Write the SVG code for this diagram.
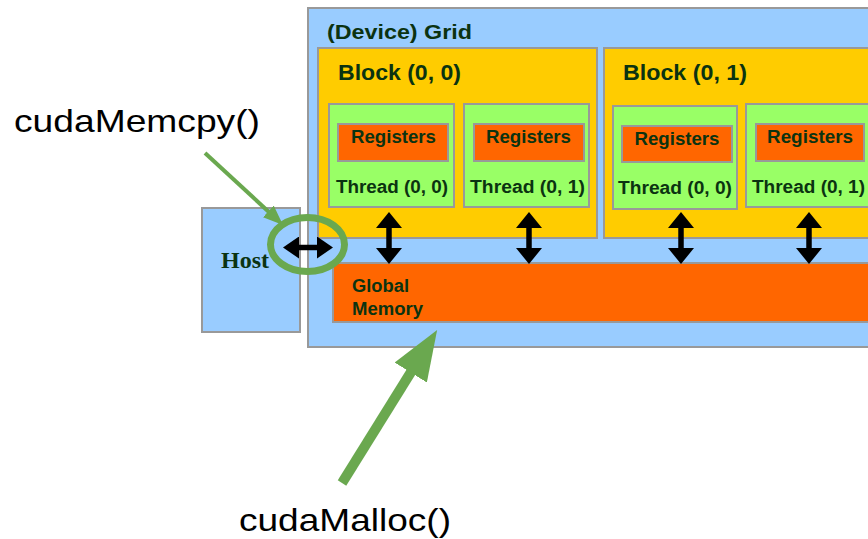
<svg xmlns="http://www.w3.org/2000/svg" width="868" height="539" viewBox="0 0 868 539">
<defs>
<style>
.grid{fill:#99ccff;stroke:#999999;stroke-width:2}
.block{fill:#ffcc00;stroke:#999999;stroke-width:2}
.thread{fill:#99ff66;stroke:#999999;stroke-width:2}
.reg{fill:#ff6600;stroke:#999999;stroke-width:2}
.lbl{font-family:"Liberation Sans",Arial,sans-serif;font-weight:bold;fill:#0b3311}
.note{font-family:"Liberation Sans",Arial,sans-serif;fill:#000000}
.dbl{stroke:#000000;stroke-width:5.5;fill:none}
.grn{stroke:#6aa84f;fill:none}
</style>
<marker id="bh" viewBox="0 0 16 26" markerUnits="userSpaceOnUse" markerWidth="16" markerHeight="26" refX="5" refY="13" orient="auto-start-reverse">
<path d="M0,0 L16,13 L0,26 z" fill="#000000"/>
</marker>
<marker id="bhh" viewBox="0 0 16 22" markerUnits="userSpaceOnUse" markerWidth="16" markerHeight="22" refX="5" refY="11" orient="auto-start-reverse">
<path d="M0,0 L16,11 L0,22 z" fill="#000000"/>
</marker>
<marker id="gs" viewBox="0 0 20 16" markerUnits="userSpaceOnUse" markerWidth="20" markerHeight="16" refX="6" refY="8" orient="auto">
<path d="M0,0 L20,8 L0,16 z" fill="#6aa84f"/>
</marker>
<marker id="gl" viewBox="0 0 50 38" markerUnits="userSpaceOnUse" markerWidth="50" markerHeight="38" refX="10" refY="19" orient="auto">
<path d="M0,0 L50,19 L0,38 z" fill="#6aa84f"/>
</marker>
</defs>
<rect width="868" height="539" fill="#ffffff"/>

<g id="grid">
<rect class="grid" x="308" y="8" width="570" height="339"/>
<text class="lbl" x="327" y="39" font-size="21" textLength="145" lengthAdjust="spacingAndGlyphs">(Device) Grid</text>
</g>

<g id="host">
<rect class="grid" x="202" y="208" width="98" height="124"/>
<text x="221" y="268" font-family="'Liberation Serif','Times New Roman',serif" font-weight="bold" font-size="24" fill="#0b3311">Host</text>
</g>

<g id="block00">
<rect class="block" x="318" y="48" width="279" height="190"/>
<text class="lbl" x="338" y="80" font-size="22" textLength="123" lengthAdjust="spacingAndGlyphs">Block (0, 0)</text>
</g>
<g id="block01">
<rect class="block" x="604" y="48" width="280" height="190"/>
<text class="lbl" x="623" y="80" font-size="22" textLength="124" lengthAdjust="spacingAndGlyphs">Block (0, 1)</text>
</g>

<g id="b00t00">
<rect class="thread" x="329" y="104" width="125" height="103"/>
<rect class="reg" x="338" y="124" width="110" height="37"/>
<text class="lbl" x="393.5" y="143" font-size="18" text-anchor="middle" textLength="85" lengthAdjust="spacingAndGlyphs">Registers</text>
<text class="lbl" x="392" y="193" font-size="18" text-anchor="middle" textLength="112" lengthAdjust="spacingAndGlyphs">Thread (0, 0)</text>
</g>
<g id="b00t01">
<rect class="thread" x="464" y="104" width="125" height="103"/>
<rect class="reg" x="474" y="124" width="110" height="37"/>
<text class="lbl" x="528.5" y="143" font-size="18" text-anchor="middle" textLength="85" lengthAdjust="spacingAndGlyphs">Registers</text>
<text class="lbl" x="527.5" y="193" font-size="18" text-anchor="middle" textLength="115" lengthAdjust="spacingAndGlyphs">Thread (0, 1)</text>
</g>
<g id="b01t00">
<rect class="thread" x="613" y="106" width="124" height="103"/>
<rect class="reg" x="622" y="126" width="110" height="36"/>
<text class="lbl" x="677" y="145" font-size="18" text-anchor="middle" textLength="85" lengthAdjust="spacingAndGlyphs">Registers</text>
<text class="lbl" x="675" y="194" font-size="18" text-anchor="middle" textLength="114" lengthAdjust="spacingAndGlyphs">Thread (0, 0)</text>
</g>
<g id="b01t01">
<rect class="thread" x="746" y="104" width="130" height="103"/>
<rect class="reg" x="756" y="124" width="108" height="37"/>
<text class="lbl" x="810" y="143" font-size="18" text-anchor="middle" textLength="86" lengthAdjust="spacingAndGlyphs">Registers</text>
<text class="lbl" x="808.5" y="193" font-size="18" text-anchor="middle" textLength="113" lengthAdjust="spacingAndGlyphs">Thread (0, 1)</text>
</g>

<g id="globalmem">
<rect class="reg" x="333" y="263" width="545" height="59"/>
<text class="lbl" x="352" y="292" font-size="18" textLength="57" lengthAdjust="spacingAndGlyphs">Global</text>
<text class="lbl" x="352" y="315" font-size="18" textLength="71" lengthAdjust="spacingAndGlyphs">Memory</text>
</g>

<g id="connectors">
<line class="dbl" x1="389" y1="223" x2="389" y2="253" marker-start="url(#bh)" marker-end="url(#bh)"/>
<line class="dbl" x1="529" y1="223" x2="529" y2="253" marker-start="url(#bh)" marker-end="url(#bh)"/>
<line class="dbl" x1="681" y1="223" x2="681" y2="253" marker-start="url(#bh)" marker-end="url(#bh)"/>
<line class="dbl" x1="809" y1="223" x2="809" y2="253" marker-start="url(#bh)" marker-end="url(#bh)"/>
<line class="dbl" x1="294" y1="247.5" x2="322" y2="247.5" marker-start="url(#bhh)" marker-end="url(#bhh)"/>
<ellipse class="grn" cx="307.5" cy="244.5" rx="37" ry="27" stroke-width="7"/>
<line class="grn" x1="205" y1="153" x2="272.7" y2="215.5" stroke-width="4" marker-end="url(#gs)"/>
<line class="grn" x1="342" y1="483" x2="416" y2="364" stroke-width="10" marker-end="url(#gl)"/>
</g>

<g id="labels">
<text class="note" x="14" y="132" font-size="32" textLength="246" lengthAdjust="spacingAndGlyphs">cudaMemcpy()</text>
<text class="note" x="239" y="531" font-size="32" textLength="212" lengthAdjust="spacingAndGlyphs">cudaMalloc()</text>
</g>
</svg>
